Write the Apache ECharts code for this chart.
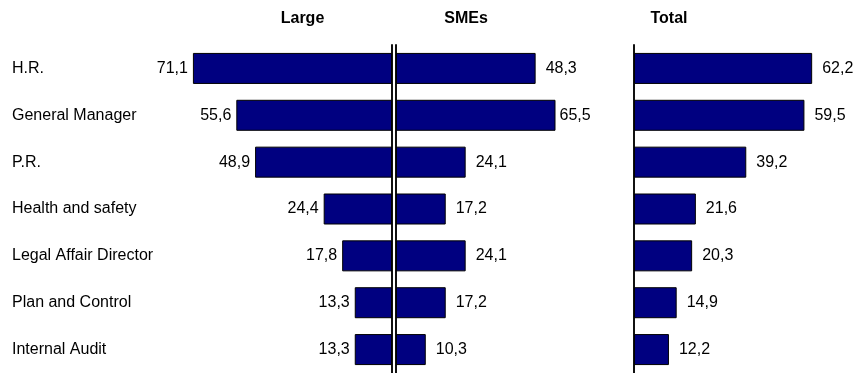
<!DOCTYPE html>
<html>
<head>
<meta charset="utf-8">
<script src="https://cdn.jsdelivr.net/npm/echarts@6/dist/echarts.min.js"></script>
<style>
  html, body { margin: 0; padding: 0; background: #fff; }
  #chart { width: 855px; height: 373px; }
</style>
</head>
<body>
<div id="chart"></div>
<script>
// categories top to bottom
const categories = ['H.R.', 'General Manager', 'P.R.', 'Health and safety', 'Legal Affair Director', 'Plan and Control', 'Internal Audit']
const panelTitles = ['Large', 'SMEs', 'Total']
const largeValues = [71.1, 55.6, 48.9, 24.4, 17.8, 13.3, 13.3]
const smeValues = [48.3, 65.5, 24.1, 17.2, 24.1, 17.2, 10.3]
const totalValues = [62.2, 59.5, 39.2, 21.6, 20.3, 14.9, 12.2]

const font = 'Liberation Sans, Arial, sans-serif'
const barColor = '#000080'
const smeMax = 55

// comma decimal, as in the original
function fmt(p) {
  return p.value.toFixed(1).replace('.', ',')
}

const chart = echarts.init(document.getElementById('chart'))

const gridTop = 45
const gridHeight = 332

function catAxis(gridIndex, position, extra) {
  return Object.assign({
    type: 'category',
    gridIndex: gridIndex,
    data: categories,
    inverse: true,
    position: position,
    axisLine: { show: true, lineStyle: { color: '#111', width: 2 } },
    axisTick: { show: false },
    axisLabel: { show: false },
    splitLine: { show: false },
  }, extra || {})
}

function valAxis(gridIndex, max, inverse) {
  return {
    type: 'value',
    gridIndex: gridIndex,
    min: 0,
    max: max,
    inverse: inverse,
    show: false,
    splitLine: { show: false },
  }
}

function barSeries(idx, data, position, distance) {
  return {
    type: 'bar',
    xAxisIndex: idx,
    yAxisIndex: idx,
    data: data,
    barWidth: 31,
    itemStyle: { color: barColor, borderColor: '#000', borderWidth: 1 },
    label: {
      show: true,
      position: position,
      distance: distance,
      formatter: fmt,
      color: '#000',
      fontSize: 16,
      fontFamily: font,
    },
    silent: true,
  }
}

// SME bars beyond the axis max are clipped, their label sits closer
const smeData = smeValues.map(v => v > smeMax ? { value: v, label: { distance: 4 } } : v)

const option = {
  animation: false,
  backgroundColor: '#fff',
  grid: [
    { left: 182, width: 210, top: gridTop, height: gridHeight },
    { left: 396, width: 159, top: gridTop, height: gridHeight },
    { left: 634, width: 200.5, top: gridTop, height: gridHeight },
  ],
  xAxis: [
    valAxis(0, 75, true),
    valAxis(1, smeMax, false),
    valAxis(2, 70, false),
  ],
  yAxis: [
    catAxis(0, 'right'),
    catAxis(1, 'left'),
    catAxis(2, 'left'),
    // category names on the far left
    catAxis(0, 'left', {
      axisLine: { show: false },
      axisLabel: { show: true, align: 'left', margin: 170, color: '#000', fontSize: 16, fontFamily: font },
    }),
  ],
  graphic: [
    { type: 'text', x: 302.5, y: 19, style: { text: panelTitles[0], align: 'center', verticalAlign: 'middle', font: 'bold 16px ' + font, fill: '#000' } },
    { type: 'text', x: 466, y: 19, style: { text: panelTitles[1], align: 'center', verticalAlign: 'middle', font: 'bold 16px ' + font, fill: '#000' } },
    { type: 'text', x: 669, y: 19, style: { text: panelTitles[2], align: 'center', verticalAlign: 'middle', font: 'bold 16px ' + font, fill: '#000' } },
  ],
  series: [
    barSeries(0, largeValues, 'left', 5),
    barSeries(1, smeData, 'right', 10),
    barSeries(2, totalValues, 'right', 10),
  ],
}

chart.setOption(option)
</script>
</body>
</html>
